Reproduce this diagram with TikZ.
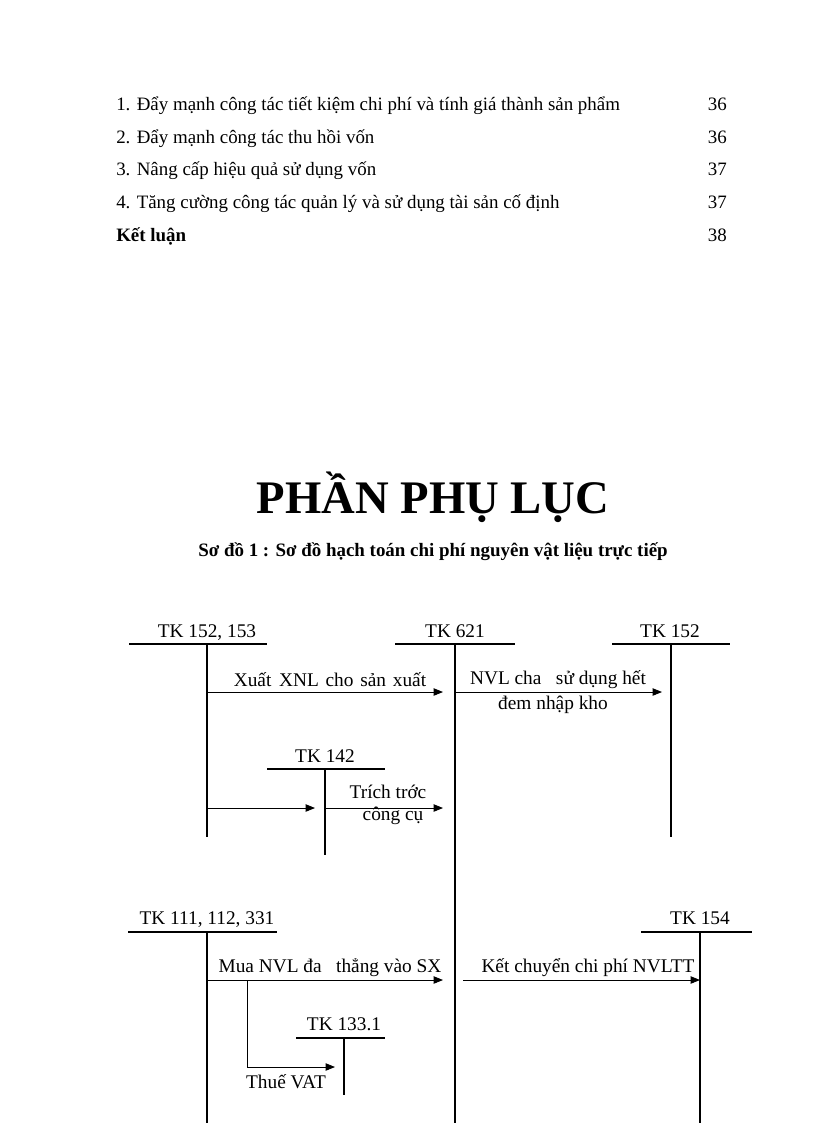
\documentclass[tikz,border=0pt]{standalone}
\usepackage{fontspec}
\setmainfont{Liberation Serif}
\usetikzlibrary{arrows.meta}
\begin{document}
\begin{tikzpicture}[x=0.75pt,y=-0.75pt,
  acct/.style={line width=0.8pt},
  flow/.style={line width=0.7pt,-{Triangle[length=7pt,width=5.5pt]}},
  lbl/.style={font=\fontsize{14.5}{16}\selectfont, inner sep=0pt},
  tk/.style={lbl, anchor=base},
  toc/.style={font=\fontsize{14.2}{16}\selectfont, inner sep=0pt}]
\useasboundingbox[fill=white] (0,0) rectangle (816,1123);

% ---- table of contents ----
\node[toc,anchor=base west] (t1) at (116,111) {1. Đẩy mạnh công tác tiết kiệm chi phí và tính giá thành sản phẩm};
\node[toc,anchor=base east] (p1) at (727,111) {36};
\node[toc,anchor=base west] (t2) at (116,144) {2. Đẩy mạnh công tác thu hồi vốn};
\node[toc,anchor=base east] (p2) at (727,144) {36};
\node[toc,anchor=base west] (t3) at (116,176) {3. Nâng cấp hiệu quả sử dụng vốn};
\node[toc,anchor=base east] (p3) at (727,176) {37};
\node[toc,anchor=base west] (t4) at (116,209) {4. Tăng cường công tác quản lý và sử dụng tài sản cố định};
\node[toc,anchor=base east] (p4) at (727,209) {37};
\node[toc,anchor=base west,font=\fontsize{14.2}{16}\selectfont\bfseries] (t5) at (116,242) {Kết luận};
\node[toc,anchor=base east] (p5) at (727,242) {38};

% ---- titles ----
\node[inner sep=0pt,anchor=base,font=\fontsize{35}{40}\selectfont\bfseries] (title) at (433,513) {PHẦN PHỤ LỤC};
\node[inner sep=0pt,anchor=base,font=\fontsize{14.2}{16}\selectfont\bfseries] (sub) at (433,556) {Sơ đồ 1 : Sơ đồ hạch toán chi phí nguyên vật liệu trực tiếp};

% ---- T-accounts ----
% TK 152,153
\coordinate (aL) at (129,644); \coordinate (aR) at (267,644);
\coordinate (aT) at (207,644); \coordinate (aB) at (207,837);
\draw[acct] (aL) -- (aR); \draw[acct] (aT) -- (aB);
\node[tk] (la) at (207,637) {TK 152, 153};
% TK 621
\coordinate (bL) at (395,644); \coordinate (bR) at (515,644);
\coordinate (bT) at (455,644); \coordinate (bB) at (455,1123);
\draw[acct] (bL) -- (bR); \draw[acct] (bT) -- (bB);
\node[tk] (lb) at (455,637) {TK 621};
% TK 152
\coordinate (cL) at (612,644); \coordinate (cR) at (730,644);
\coordinate (cT) at (671,644); \coordinate (cB) at (671,837);
\draw[acct] (cL) -- (cR); \draw[acct] (cT) -- (cB);
\node[tk] (lc) at (670,637) {TK 152};
% TK 142
\coordinate (dL) at (267,769); \coordinate (dR) at (385,769);
\coordinate (dT) at (325,769); \coordinate (dB) at (325,855);
\draw[acct] (dL) -- (dR); \draw[acct] (dT) -- (dB);
\node[tk] (ld) at (325,762) {TK 142};
% TK 111,112,331
\coordinate (eL) at (128,932); \coordinate (eR) at (277,932);
\coordinate (eT) at (207,932); \coordinate (eB) at (207,1123);
\draw[acct] (eL) -- (eR); \draw[acct] (eT) -- (eB);
\node[tk] (le) at (207,924) {TK 111, 112, 331};
% TK 154
\coordinate (fL) at (641,932); \coordinate (fR) at (752,932);
\coordinate (fT) at (700,932); \coordinate (fB) at (700,1123);
\draw[acct] (fL) -- (fR); \draw[acct] (fT) -- (fB);
\node[tk] (lf) at (700,924) {TK 154};
% TK 133.1
\coordinate (gL) at (296,1038); \coordinate (gR) at (385,1038);
\coordinate (gT) at (344,1038); \coordinate (gB) at (344,1095);
\draw[acct] (gL) -- (gR); \draw[acct] (gT) -- (gB);
\node[tk] (lg) at (344,1030) {TK 133.1};

% ---- flows ----
\coordinate (f1s) at (207,692); \coordinate (f1e) at (443,692);
\draw[flow] (f1s) -- (f1e);
\node[lbl] (n1) at (330,680) {Xuất\hspace{0.4em}XNL\hspace{0.35em}cho\hspace{0.35em}sản\hspace{0.35em}xuất};

\coordinate (f2s) at (455,692); \coordinate (f2e) at (662,692);
\draw[flow] (f2s) -- (f2e);
\node[lbl] (n2) at (558,680) {NVL cha \ \ sử dụng hết};
\node[lbl] (n2b) at (553,705) {đem nhập kho};

\coordinate (f3s) at (207,808); \coordinate (f3e) at (315,808);
\draw[flow] (f3s) -- (f3e);
\coordinate (f4s) at (325,808); \coordinate (f4e) at (443,808);
\draw[flow] (f4s) -- (f4e);
\node[lbl] (n4) at (388,792) {Trích trớc};
\node[lbl] (n4b) at (393,816) {công cụ};

\coordinate (f5s) at (207,980); \coordinate (f5e) at (443,980);
\draw[flow] (f5s) -- (f5e);
\node[lbl] (n5) at (330,968) {Mua NVL đa \ \ thẳng vào SX};

\coordinate (f6s) at (463,980); \coordinate (f6e) at (700,980);
\draw[flow] (f6s) -- (f6e);
\node[lbl] (n6) at (588,968) {Kết chuyển chi phí NVLTT};

\coordinate (f7s) at (247,980); \coordinate (f7m) at (247,1067); \coordinate (f7e) at (335,1067);
\draw[flow] (f7s) -- (f7m) -- (f7e);
\node[lbl] (n7) at (286,1082) {Thuế VAT};
\end{tikzpicture}
\end{document}
